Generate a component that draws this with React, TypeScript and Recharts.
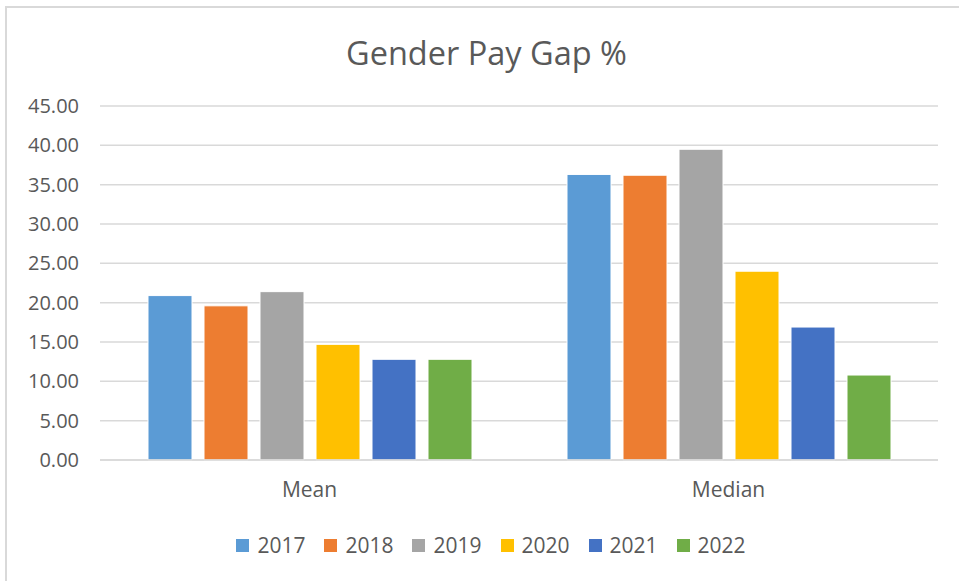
import React from 'react';
import { BarChart, Bar, XAxis, YAxis, CartesianGrid } from 'recharts';

const categories = ['Mean', 'Median'];
const years = ['2017', '2018', '2019', '2020', '2021', '2022'];
const values2017 = [20.9, 36.3];
const values2018 = [19.6, 36.2];
const values2019 = [21.4, 39.5];
const values2020 = [14.7, 24.0];
const values2021 = [12.8, 16.9];
const values2022 = [12.8, 10.8];
const yTicks = [0, 5, 10, 15, 20, 25, 30, 35, 40, 45];
const colors = ['#5B9BD5', '#ED7D31', '#A5A5A5', '#FFC000', '#4472C4', '#70AD47'];

const seriesValues = [values2017, values2018, values2019, values2020, values2021, values2022];
const data = categories.map((c, i) => {
  const row: Record<string, any> = { name: c };
  years.forEach((y, j) => {
    row[y] = seriesValues[j][i];
  });
  return row;
});

const FONT = '"Open Sans", "Noto Sans", sans-serif';
const TEXT = '#595959';

export default function App() {
  return (
    <div style={{ position: 'absolute', left: 0, top: 0, width: 959, height: 581, background: '#fff', fontFamily: FONT }}>
      <div style={{ position: 'absolute', left: 5, top: 6, right: 0, bottom: 0, borderLeft: '2px solid #d9d9d9', borderTop: '2px solid #d9d9d9' }} />
      <div style={{ position: 'absolute', left: 0, width: 959, top: 31, paddingLeft: 14, boxSizing: 'border-box', textAlign: 'center', fontSize: 32.5, color: TEXT, lineHeight: '44px' }}>
        Gender Pay Gap %
      </div>
      <div style={{ position: 'absolute', left: 0, top: 0 }}>
        <BarChart
          width={959}
          height={581}
          data={data}
          margin={{ top: 106, right: 21, bottom: 81, left: 0 }}
          barCategoryGap={48}
          barGap={12}
        >
          <CartesianGrid vertical={false} stroke="#d9d9d9" strokeWidth={1.5} />
          <XAxis
            dataKey="name"
            axisLine={{ stroke: '#d9d9d9', strokeWidth: 1.5 }}
            tickLine={false}
            tickSize={0}
            tickMargin={22}
            height={40}
            tick={{ fill: TEXT, fontSize: 21, fontFamily: FONT }}
          />
          <YAxis
            domain={[0, 45]}
            ticks={yTicks}
            interval={0}
            width={100}
            axisLine={false}
            tickLine={false}
            tickSize={0}
            tickMargin={21}
            tickFormatter={(v: number) => v.toFixed(2)}
            tick={{ fill: TEXT, fontSize: 20, fontFamily: FONT }}
          />
          {years.map((y, i) => (
            <Bar key={y} dataKey={y} fill={colors[i]} stroke="#ffffff" strokeWidth={1} isAnimationActive={false} />
          ))}
        </BarChart>
      </div>
      <div style={{ position: 'absolute', left: 0, width: 959, top: 530, display: 'flex', justifyContent: 'center', alignItems: 'center', paddingLeft: 42, boxSizing: 'border-box' }}>
        {years.map((y, i) => (
          <div key={y} style={{ display: 'flex', alignItems: 'center', marginRight: 19 }}>
            <div style={{ width: 13, height: 13, background: colors[i], marginRight: 8 }} />
            <span style={{ fontSize: 21, color: TEXT, lineHeight: '30px' }}>{y}</span>
          </div>
        ))}
      </div>
    </div>
  );
}
